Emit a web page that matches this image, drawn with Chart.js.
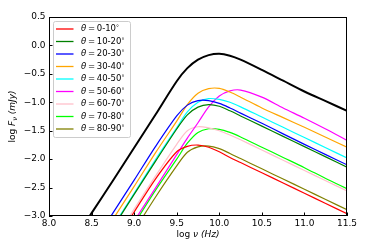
<!DOCTYPE html>
<html>
<head>
<meta charset="utf-8">
<script src="https://cdn.jsdelivr.net/npm/chart.js@4"></script>
<style>
  html, body { margin: 0; padding: 0; background: #fff; }
  #wrap { width: 374px; height: 249px; }
</style>
</head>
<body>
<div id="wrap"><canvas id="sed" width="374" height="249"></canvas></div>
<script>
// griglia in log nu (Hz)
const logNu = [8.25, 8.5, 8.75, 9.0, 9.25, 9.5, 9.625, 9.75, 9.875, 10.0, 10.125, 10.25, 10.5, 10.75, 11.0, 11.25, 11.5];

// log F_nu (mJy), null = fuori dal grafico
const totalFlux = [-3.53, -2.95, -2.38, -1.80, -1.22, -0.63, -0.40, -0.25, -0.17, -0.145, -0.18, -0.25, -0.43, -0.62, -0.81, -0.98, -1.15];
const theta0_10  = [null, null, -3.52, -2.93, -2.35, -1.87, -1.775, -1.752, -1.79, -1.87, -1.97, -2.06, -2.24, -2.42, -2.60, -2.78, -2.96];
const theta10_20 = [null, null, -3.21, -2.62, -2.04, -1.47, -1.22, -1.085, -1.04, -1.07, -1.15, -1.24, -1.42, -1.60, -1.78, -1.96, -2.14];
const theta20_30 = [null, -3.54, -2.95, -2.37, -1.78, -1.24, -1.05, -0.97, -0.97, -1.02, -1.10, -1.19, -1.37, -1.555, -1.74, -1.92, -2.10];
const theta30_40 = [null, null, -3.06, -2.48, -1.89, -1.33, -1.04, -0.84, -0.76, -0.755, -0.82, -0.91, -1.10, -1.27, -1.44, -1.615, -1.79];
const theta40_50 = [null, null, -3.19, -2.60, -2.01, -1.45, -1.17, -1.00, -0.935, -0.95, -1.00, -1.08, -1.26, -1.44, -1.62, -1.80, -1.98];
const theta50_60 = [null, null, null, -3.09, -2.51, -1.92, -1.63, -1.36, -1.08, -0.89, -0.80, -0.785, -0.91, -1.10, -1.28, -1.47, -1.67];
const theta60_70 = [null, null, -3.47, -2.88, -2.30, -1.74, -1.50, -1.43, -1.45, -1.50, -1.575, -1.66, -1.84, -2.02, -2.20, -2.38, -2.56];
const theta70_80 = [null, null, null, -3.14, -2.55, -2.00, -1.72, -1.53, -1.465, -1.475, -1.53, -1.61, -1.79, -1.97, -2.15, -2.34, -2.52];
const theta80_90 = [null, null, null, -3.26, -2.67, -2.12, -1.88, -1.785, -1.77, -1.815, -1.90, -1.99, -2.17, -2.35, -2.53, -2.71, -2.89];

const thetaSeries = [theta0_10, theta10_20, theta20_30, theta30_40, theta40_50, theta50_60, theta60_70, theta70_80, theta80_90];
const thetaLabels = ['0-10', '10-20', '20-30', '30-40', '40-50', '50-60', '60-70', '70-80', '80-90'];
const thetaColors = ['#ff0000', '#008000', '#0000ff', '#ffa500', '#00ffff', '#ff00ff', '#ffc0cb', '#00ff00', '#808000'];

const xTicks = [8.0, 8.5, 9.0, 9.5, 10.0, 10.5, 11.0, 11.5];
const yTicks = [0.5, 0.0, -0.5, -1.0, -1.5, -2.0, -2.5, -3.0];

const FONT = '"DejaVu Sans", sans-serif';

function toPoints(values) {
  return logNu.map((x, i) => ({ x: x, y: values[i] })).filter(p => p.y !== null);
}

function fmt(v) {
  const a = Math.abs(v).toFixed(1);
  return (v < -1e-9 ? '\u2212' : '') + a;
}

// disegna un testo composto da pezzi (normale / corsivo / pedice)
function drawRuns(ctx, runs, x, y, align) {
  let total = 0;
  runs.forEach(r => {
    ctx.font = (r.italic ? 'italic ' : '') + r.size + 'px ' + FONT;
    r.w = ctx.measureText(r.t).width;
    total += r.w;
  });
  let cx = align === 'center' ? x - total / 2 : x;
  ctx.textBaseline = 'middle';
  ctx.textAlign = 'left';
  runs.forEach(r => {
    ctx.font = (r.italic ? 'italic ' : '') + r.size + 'px ' + FONT;
    ctx.fillText(r.t, cx, y + (r.dy || 0));
    cx += r.w;
  });
}

const decorations = {
  id: 'decorations',
  afterDatasetsDraw(chart) {
    const ctx = chart.ctx;
    const area = chart.chartArea;
    const xs = chart.scales.x;
    const ys = chart.scales.y;
    ctx.save();

    // tacche verso l'interno
    ctx.strokeStyle = '#000';
    ctx.lineWidth = 1;
    ctx.beginPath();
    xTicks.forEach(v => {
      const px = Math.round(xs.getPixelForValue(v)) + 0.5;
      ctx.moveTo(px, area.bottom);
      ctx.lineTo(px, area.bottom - 3.5);
    });
    yTicks.forEach(v => {
      const py = Math.round(ys.getPixelForValue(v)) + 0.5;
      ctx.moveTo(area.left, py);
      ctx.lineTo(area.left + 3.5, py);
    });
    ctx.stroke();

    // cornice
    ctx.strokeRect(area.left + 0.5, area.top + 0.5, area.right - area.left - 1, area.bottom - area.top - 1);

    // titoli degli assi
    ctx.fillStyle = '#000';
    drawRuns(ctx, [
      { t: 'log ', size: 9 },
      { t: '\u03bd (Hz)', size: 9, italic: true }
    ], (area.left + area.right) / 2, 235, 'center');

    ctx.save();
    ctx.translate(13, (area.top + area.bottom) / 2);
    ctx.rotate(-Math.PI / 2);
    drawRuns(ctx, [
      { t: 'log ', size: 9 },
      { t: 'F', size: 9, italic: true },
      { t: '\u03bd', size: 6.5, italic: true, dy: 2 },
      { t: ' (mJy)', size: 9, italic: true }
    ], 0, 0, 'center');
    ctx.restore();

    // legenda
    const bx = 53, by = 21, bw = 77, bh = 116;
    ctx.fillStyle = 'rgba(255,255,255,0.8)';
    ctx.strokeStyle = '#cccccc';
    ctx.lineWidth = 1;
    ctx.beginPath();
    ctx.roundRect(bx + 0.5, by + 0.5, bw, bh, 2);
    ctx.fill();
    ctx.stroke();

    thetaLabels.forEach((lab, i) => {
      const y = 29 + i * 12.5;
      ctx.strokeStyle = thetaColors[i];
      ctx.lineWidth = 1.3;
      ctx.beginPath();
      ctx.moveTo(56, y);
      ctx.lineTo(73.5, y);
      ctx.stroke();
      ctx.fillStyle = '#000';
      drawRuns(ctx, [
        { t: '\u03b8', size: 8.5, italic: true },
        { t: '=', size: 8.5, pad: true },
        { t: lab, size: 8.5 },
        { t: '\u00b0', size: 6, dy: -1.5 }
      ].map(r => r.pad ? Object.assign(r, { t: '\u2009=\u2009' }) : r), 81, y, 'left');
    });

    ctx.restore();
  }
};

const datasets = thetaSeries.map((vals, i) => ({
  label: thetaLabels[i],
  data: toPoints(vals),
  borderColor: thetaColors[i],
  borderWidth: 1.2,
  pointRadius: 0,
  fill: false,
  tension: 0.3,
  clip: 0
}));

datasets.push({
  label: 'total',
  data: toPoints(totalFlux),
  borderColor: '#000',
  borderWidth: 2,
  pointRadius: 0,
  fill: false,
  tension: 0.3,
  clip: 0
});

new Chart(document.getElementById('sed').getContext('2d'), {
  type: 'line',
  data: { datasets: datasets },
  plugins: [decorations],
  options: {
    responsive: false,
    animation: false,
    devicePixelRatio: 1,
    events: [],
    layout: { padding: { top: 17, right: 27, left: 0, bottom: 0 } },
    plugins: {
      legend: { display: false },
      tooltip: { enabled: false }
    },
    scales: {
      x: {
        type: 'linear',
        min: 8.0,
        max: 11.5,
        afterFit: s => { s.height = 33; },
        afterBuildTicks: s => { s.ticks = xTicks.map(v => ({ value: v })); },
        grid: { display: false, drawTicks: false },
        border: { display: false },
        ticks: {
          autoSkip: false,
          maxRotation: 0,
          padding: 2,
          color: '#000',
          font: { family: FONT, size: 9 },
          callback: v => fmt(v)
        }
      },
      y: {
        type: 'linear',
        min: -3.0,
        max: 0.5,
        afterFit: s => { s.width = 49; },
        afterBuildTicks: s => { s.ticks = yTicks.map(v => ({ value: v })); },
        grid: { display: false, drawTicks: false },
        border: { display: false },
        ticks: {
          autoSkip: false,
          padding: 3.5,
          color: '#000',
          font: { family: FONT, size: 9 },
          callback: v => fmt(v)
        }
      }
    }
  }
});
</script>
</body>
</html>
